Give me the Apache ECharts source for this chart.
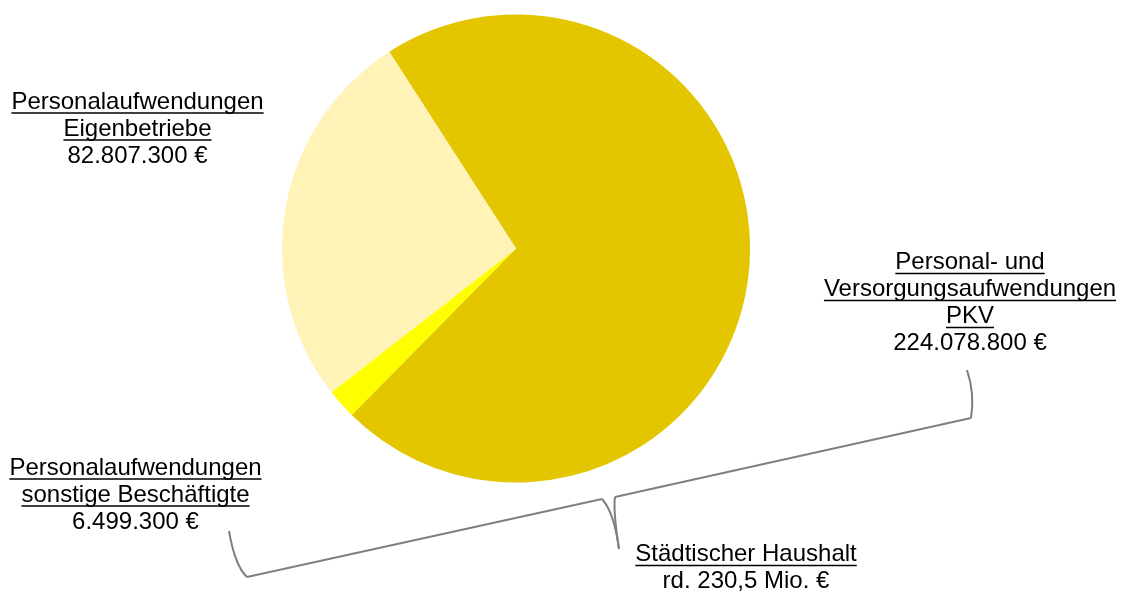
<!DOCTYPE html>
<html>
<head>
<meta charset="utf-8">
<script src="https://cdn.jsdelivr.net/npm/echarts@6/dist/echarts.min.js"></script>
<style>html,body{margin:0;padding:0;background:#fff;overflow:hidden}#c{width:1123px;height:592px}</style>
</head>
<body>
<div id="c"></div>
<script>
// ---- data ----
const categories = ['Personal- und Versorgungsaufwendungen PKV', 'Personalaufwendungen sonstige Beschäftigte', 'Personalaufwendungen Eigenbetriebe'];
const labelTitles = [['Personal- und', 'Versorgungsaufwendungen', 'PKV'], ['Personalaufwendungen', 'sonstige Beschäftigte'], ['Personalaufwendungen', 'Eigenbetriebe']];
const values = [224078800, 6499300, 82807300];
const totalTitle = ['Städtischer Haushalt'];
const totalText = ['rd. 230,5 Mio. €'];

// ---- layout / style ----
const colors = ['#E3C600', '#FFFF00', '#FFF3B7'];
const labelPos = [[970, 303], [135.5, 495], [137.5, 129]];
const totalPos = [746, 568];
const FONT = 'Liberation Sans, Arial, sans-serif';
const FS = 24, LH = 27;

function fmt(v) { return String(v).replace(/\B(?=(\d{3})+(?!\d))/g, '.') + ' €'; }

const ctx = document.createElement('canvas').getContext('2d');
ctx.font = FS + 'px "Liberation Sans", Arial, sans-serif';

function underlines(lines, nTotal, cx, cy) {
  const out = [];
  lines.forEach((t, i) => {
    const w = ctx.measureText(t).width;
    const ly = cy - (nTotal - 1) / 2 * LH + i * LH + 11;
    out.push({
      type: 'line', silent: true,
      shape: { x1: cx - w / 2, y1: ly, x2: cx + w / 2, y2: ly },
      style: { stroke: '#000', lineWidth: 1.3 }
    });
  });
  return out;
}

const graphics = [];
labelTitles.forEach((lines, i) => {
  graphics.push(...underlines(lines, lines.length + 1, labelPos[i][0], labelPos[i][1]));
});
graphics.push(...underlines(totalTitle, totalTitle.length + totalText.length, totalPos[0], totalPos[1]));
graphics.push({
  type: 'text', silent: true, x: totalPos[0], y: totalPos[1],
  style: {
    text: totalTitle.concat(totalText).join('\n'),
    font: FS + 'px ' + FONT, fill: '#000', align: 'center', verticalAlign: 'middle', lineHeight: LH
  }
});
// curly bracket
const bStyle = { fill: 'none', stroke: '#7F7F7F', lineWidth: 2 };
function qc(x1, y1, cx, cy, x2, y2) {
  return { type: 'bezierCurve', silent: true, shape: { x1, y1, x2, y2, cpx1: cx, cpy1: cy }, style: bStyle };
}
function ln(x1, y1, x2, y2) {
  return { type: 'line', silent: true, shape: { x1, y1, x2, y2 }, style: bStyle };
}
graphics.push(
  qc(229, 531, 235, 566, 247, 577),
  ln(247, 577, 602, 499),
  qc(602, 499, 614, 512, 619, 549),
  qc(619, 549, 613, 510, 615, 497),
  ln(615, 497, 971, 418),
  qc(971, 418, 975, 394, 967, 370)
);

const chart = echarts.init(document.getElementById('c'), null, { renderer: 'canvas' });
chart.setOption({
  animation: false,
  backgroundColor: '#fff',
  series: [{
    type: 'pie',
    center: [516, 248.5],
    radius: 234,
    startAngle: 122.8,
    clockwise: true,
    silent: true,
    data: categories.map((c, i) => ({ name: c, value: values[i], itemStyle: { color: colors[i] } })),
    label: {
      show: true,
      overflow: 'none',
      formatter: p => labelTitles[p.dataIndex].concat([fmt(p.value)]).join('\n'),
      fontFamily: FONT, fontSize: FS, color: '#000', lineHeight: LH, align: 'center'
    },
    labelLine: { show: false },
    labelLayout: p => ({ x: labelPos[p.dataIndex][0], y: labelPos[p.dataIndex][1], align: 'center', verticalAlign: 'middle' }),
    emphasis: { disabled: true }
  }],
  graphic: graphics
});
</script>
</body>
</html>
